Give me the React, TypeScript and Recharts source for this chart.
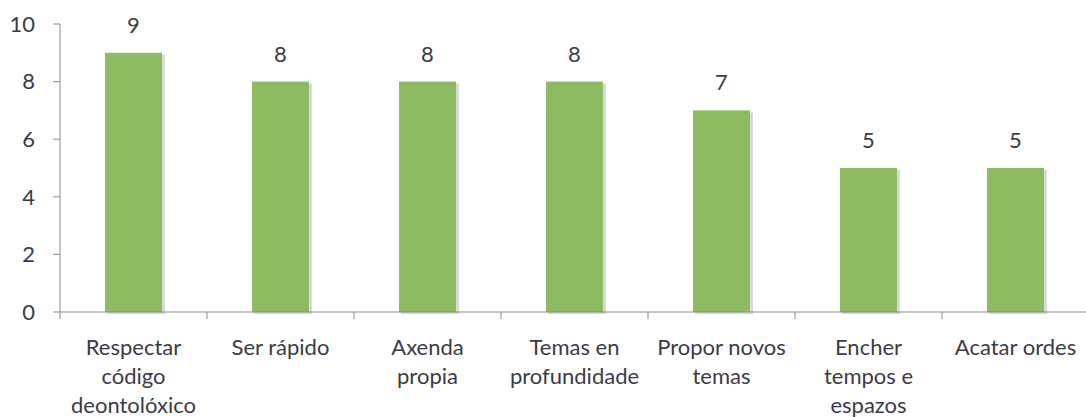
import { BarChart, Bar, XAxis, YAxis, LabelList } from 'recharts';

const categories = [
  'Respectar\ncódigo\ndeontolóxico',
  'Ser rápido',
  'Axenda\npropia',
  'Temas en\nprofundidade',
  'Propor novos\ntemas',
  'Encher\ntempos e\nespazos',
  'Acatar ordes',
];
const values = [9, 8, 8, 8, 7, 5, 5];
const yTicks = [0, 2, 4, 6, 8, 10];

const data = categories.map((name, i) => ({ name, value: values[i] }));

const FONT = 'Lato, "Noto Sans", sans-serif';
const TEXT = '#3b3b45';
const AXIS = '#8a8a8a';
const HALF_BAND = 73.5;

const CategoryTick = (props: any) => {
  const { x, y, payload } = props;
  const lines = String(payload.value).split('\n');
  return (
    <g>
      <line x1={x - HALF_BAND} y1={y} x2={x - HALF_BAND} y2={y + 7} stroke={AXIS} strokeWidth={1} />
      <text x={x} y={y + 43} textAnchor="middle" fill={TEXT} fontSize={22} fontFamily={FONT}>
        {lines.map((l, i) => (
          <tspan key={i} x={x} dy={i === 0 ? 0 : 29}>
            {l}
          </tspan>
        ))}
      </text>
    </g>
  );
};

const ShadowBar = (props: any) => {
  const { x, y, width, height } = props;
  return (
    <g>
      <rect x={x + 2} y={y + 2} width={width + 1} height={height} fill="#c9c9c9" opacity={0.7} />
      <rect x={x} y={y} width={width} height={height} fill="#8dbb62" />
    </g>
  );
};

export default function App() {
  return (
    <div style={{ position: 'absolute', left: 0, top: 0, width: 1086, height: 417, overflow: 'hidden', background: '#fff' }}>
      <BarChart width={1100} height={417} data={data} margin={{ top: 24, right: 11, left: 0, bottom: 0 }}>
        <YAxis
          domain={[0, 10]}
          ticks={yTicks}
          width={60}
          tickSize={7}
          tickMargin={18}
          stroke={AXIS}
          tick={{ fill: TEXT, fontSize: 22, fontFamily: FONT }}
        />
        <XAxis
          dataKey="name"
          height={105}
          stroke={AXIS}
          tickLine={false}
          tickSize={0}
          tickMargin={0}
          interval={0}
          tick={<CategoryTick />}
        />
        <Bar dataKey="value" barSize={57} fill="#8dbb62" shape={<ShadowBar />} isAnimationActive={false}>
          <LabelList dataKey="value" position="top" offset={20} fill={TEXT} fontSize={22} fontFamily={FONT} />
        </Bar>
      </BarChart>
    </div>
  );
}
